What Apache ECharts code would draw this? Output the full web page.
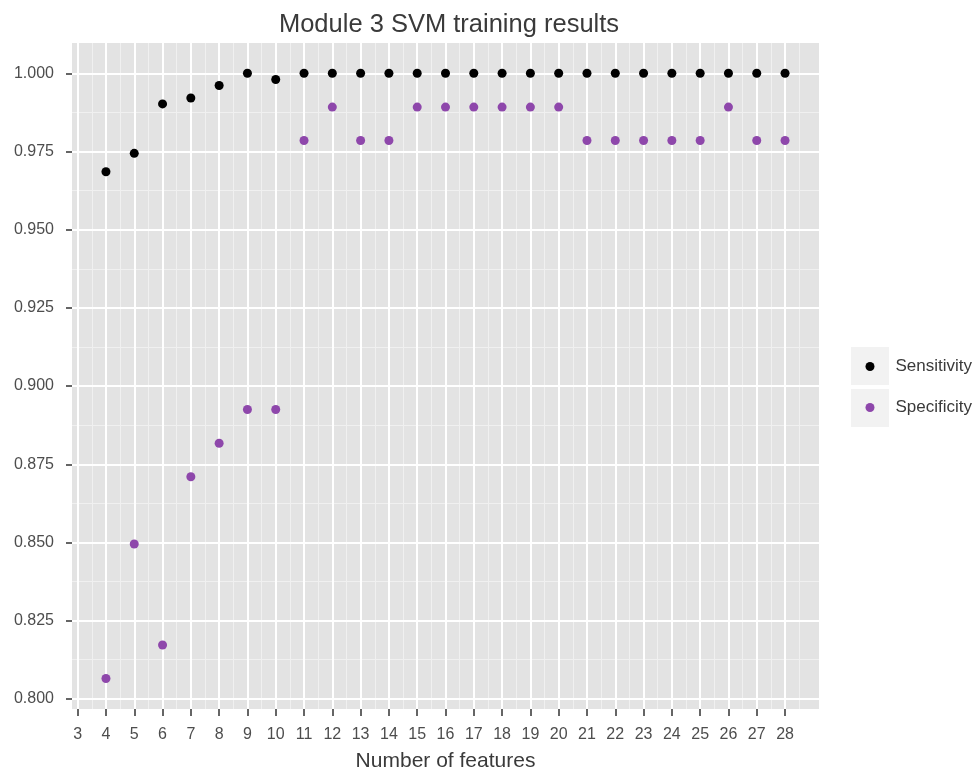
<!DOCTYPE html>
<html>
<head>
<meta charset="utf-8">
<script src="https://cdn.jsdelivr.net/npm/echarts@6/dist/echarts.min.js"></script>
<style>
html,body{margin:0;padding:0;background:#ffffff;}
#chart{width:974px;height:772px;}
</style>
</head>
<body>
<div id="chart"></div>
<script>
var features = [4,5,6,7,8,9,10,11,12,13,14,15,16,17,18,19,20,21,22,23,24,25,26,27,28];
var sensitivity = [0.9685,0.9744,0.9902,0.9921,0.9961,1.0,0.9980,1.0,1.0,1.0,1.0,1.0,1.0,1.0,1.0,1.0,1.0,1.0,1.0,1.0,1.0,1.0,1.0,1.0,1.0];
var specificity = [0.8065,0.8495,0.8172,0.8710,0.8817,0.8925,0.8925,0.9785,0.9892,0.9785,0.9785,0.9892,0.9892,0.9892,0.9892,0.9892,0.9892,0.9785,0.9785,0.9785,0.9785,0.9785,0.9892,0.9785,0.9785];
var xTicks = [3,4,5,6,7,8,9,10,11,12,13,14,15,16,17,18,19,20,21,22,23,24,25,26,27,28];
var xMinor = [3.5,4.5,5.5,6.5,7.5,8.5,9.5,10.5,11.5,12.5,13.5,14.5,15.5,16.5,17.5,18.5,19.5,20.5,21.5,22.5,23.5,24.5,25.5,26.5,27.5,28.5];
var yTicks = [0.800,0.825,0.850,0.875,0.900,0.925,0.950,0.975,1.000];
var yMinor = [0.8125,0.8375,0.8625,0.8875,0.9125,0.9375,0.9625,0.9875];

var seriesNames = ['Sensitivity','Specificity'];
var seriesColors = ['#000000','#8e47ab'];

function pairs(xs, ys){ return xs.map(function(x,i){ return [x, ys[i]]; }); }

var X_MIN = 2.8, X_MAX = 29.2, Y_MIN = 0.79675, Y_MAX = 1.00968;
var FONT = 'Liberation Sans, Arial, sans-serif';

var chart = echarts.init(document.getElementById('chart'), null, {renderer:'canvas'});
chart.setOption({
  animation:false,
  backgroundColor:'#ffffff',
  title:{
    text:'Module 3 SVM training results',
    left:444, textAlign:'center', top:7,
    textStyle:{color:'#3a3a3a', fontSize:25.5, fontWeight:'normal', fontFamily:FONT}
  },
  grid:{left:72, top:43, right:155, bottom:63, show:true, backgroundColor:'#e3e3e3', borderWidth:0,
        containLabel:false, outerBoundsMode:'none'},
  graphic:[
    {type:'rect', shape:{x:851,y:347,width:38,height:38}, style:{fill:'#f2f2f2'}, z:0},
    {type:'rect', shape:{x:851,y:389,width:38,height:38}, style:{fill:'#f2f2f2'}, z:0}
  ],
  legend:[
    {data:[seriesNames[0]], orient:'vertical', left:865.5, top:358, padding:0, icon:'circle', itemWidth:9, itemHeight:9,
     textStyle:{color:'#3a3a3a', fontSize:17, fontFamily:FONT, padding:[0,0,0,16]}},
    {data:[seriesNames[1]], orient:'vertical', left:865.5, top:399, padding:0, icon:'circle', itemWidth:9, itemHeight:9,
     textStyle:{color:'#3a3a3a', fontSize:17, fontFamily:FONT, padding:[0,0,0,16]}}
  ],
  xAxis:[
    {type:'value', min:X_MIN, max:X_MAX, position:'bottom',
     name:'Number of features', nameLocation:'middle', nameGap:42,
     nameTextStyle:{color:'#3a3a3a', fontSize:21, fontFamily:FONT},
     axisLine:{show:false},
     axisTick:{show:true, length:7, lineStyle:{color:'#333333', width:1.5}, customValues:xTicks},
     axisLabel:{show:true, margin:18, customValues:xTicks, color:'#4d4d4d', fontSize:16, fontFamily:FONT,
       formatter:function(v){return String(v);}},
     splitLine:{show:true, lineStyle:{color:'#ffffff', width:2}},
     z:3},
    {type:'value', min:X_MIN, max:X_MAX, position:'top', show:true,
     axisLine:{show:false}, axisTick:{show:false, customValues:xMinor}, axisLabel:{show:false, customValues:xMinor},
     splitLine:{show:true, lineStyle:{color:'#f0f0f0', width:1}}, z:2}
  ],
  yAxis:[
    {type:'value', min:Y_MIN, max:Y_MAX, position:'left',
     axisLine:{show:false},
     axisTick:{show:true, length:6, lineStyle:{color:'#333333', width:1.5}, customValues:yTicks},
     axisLabel:{show:true, margin:18, customValues:yTicks, color:'#4d4d4d', fontSize:16, fontFamily:FONT,
       formatter:function(v){return v.toFixed(3);}},
     splitLine:{show:true, lineStyle:{color:'#ffffff', width:2}}, z:3},
    {type:'value', min:Y_MIN, max:Y_MAX, position:'right',
     axisLine:{show:false}, axisTick:{show:false, customValues:yMinor}, axisLabel:{show:false, customValues:yMinor},
     splitLine:{show:true, lineStyle:{color:'#f0f0f0', width:1}}, z:2}
  ],
  series:[
    {name:seriesNames[0], type:'scatter', xAxisIndex:0, yAxisIndex:0, symbol:'circle', symbolSize:9,
     itemStyle:{color:seriesColors[0], opacity:1}, data:pairs(features, sensitivity), z:5},
    {name:seriesNames[1], type:'scatter', xAxisIndex:0, yAxisIndex:0, symbol:'circle', symbolSize:9,
     itemStyle:{color:seriesColors[1], opacity:1}, data:pairs(features, specificity), z:5}
  ]
});
</script>
</body>
</html>
